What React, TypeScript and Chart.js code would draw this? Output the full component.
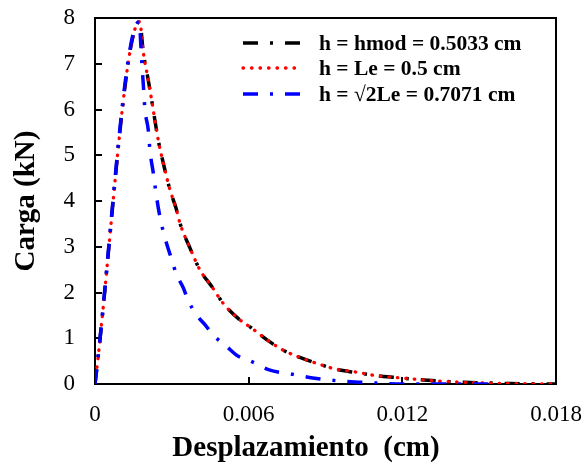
import { useEffect, useRef } from "react";
import { Chart, registerables } from "chart.js";

Chart.register(...registerables);

// ---- data ----
const hmodX = [0, 0.00174, 0.00189, 0.00208, 0.00221, 0.00247, 0.00267, 0.00293, 0.00316, 0.00332, 0.00371, 0.0041, 0.00456, 0.00501, 0.00566, 0.00605, 0.00683, 0.00735, 0.008, 0.00866, 0.00944, 0.0102, 0.011, 0.01178, 0.01282, 0.01386, 0.0149, 0.0162, 0.018];
const hmodY = [0, 7.92, 7.23, 6.64, 6.21, 5.33, 4.82, 4.24, 3.85, 3.51, 2.97, 2.49, 2.13, 1.76, 1.4, 1.25, 0.92, 0.74, 0.58, 0.45, 0.32, 0.25, 0.18, 0.14, 0.09, 0.05, 0.03, 0.01, 0];

const leX = [0, 0.00174, 0.00189, 0.00208, 0.00221, 0.00247, 0.00267, 0.00293, 0.00316, 0.00332, 0.00371, 0.0041, 0.00456, 0.00501, 0.00566, 0.00605, 0.00683, 0.00735, 0.008, 0.00866, 0.00944, 0.0102, 0.011, 0.01178, 0.01282, 0.01386, 0.0149, 0.0162, 0.018];
const leY = [0, 7.92, 7.23, 6.64, 6.21, 5.33, 4.82, 4.24, 3.85, 3.51, 2.97, 2.49, 2.13, 1.76, 1.4, 1.25, 0.92, 0.74, 0.58, 0.45, 0.32, 0.26, 0.18, 0.14, 0.09, 0.05, 0.03, 0.01, 0];

const sqX = [0, 0.00172, 0.00182, 0.00189, 0.00195, 0.00208, 0.00215, 0.00228, 0.0024, 0.00254, 0.00273, 0.003, 0.00319, 0.00345, 0.00364, 0.00397, 0.0043, 0.00469, 0.00514, 0.00553, 0.00612, 0.0068, 0.00774, 0.0085, 0.00946, 0.0103, 0.0112, 0.012, 0.0157];
const sqY = [0, 7.92, 7.1, 6.51, 6.0, 5.55, 5.08, 4.6, 4.1, 3.64, 3.2, 2.71, 2.38, 2.1, 1.82, 1.51, 1.29, 1.03, 0.82, 0.63, 0.49, 0.31, 0.21, 0.13, 0.07, 0.04, 0.015, 0, 0];

const seriesLabels = ["h = hmod = 0.5033 cm", "h = Le = 0.5 cm", "h = \u221A2Le = 0.7071 cm"];
const seriesColors = ["#000000", "#FF0000", "#0000FF"];

const xTicks = [0, 0.006, 0.012, 0.018];
const xTickLabels = ["0", "0.006", "0.012", "0.018"];
const yTicks = [0, 1, 2, 3, 4, 5, 6, 7, 8];
const yTickLabels = ["0", "1", "2", "3", "4", "5", "6", "7", "8"];

const xTitle = "Desplazamiento  (cm)";
const yTitle = "Carga (kN)";

const SERIF = "'Liberation Serif', 'Times New Roman', serif";

const dashBlack = [15, 12, 3, 12];
const dashRed = [0.5, 8];
const dashBlue = [15, 12, 3, 12];
const seriesDash = [dashBlack, dashRed, dashBlue];
const seriesWidth = [3.5, 3.3, 3.5];
const seriesCap: CanvasLineCap[] = ["butt", "round", "butt"];

function pts(xs: number[], ys: number[]) {
  return xs.map((x, i) => ({ x, y: ys[i] }));
}

const framePlugin = {
  id: "frame",
  beforeDatasetsDraw(chart: any) {
    const { ctx, chartArea: a, scales } = chart;
    ctx.save();
    ctx.strokeStyle = "#000";
    ctx.lineWidth = 2;
    ctx.setLineDash([]);
    ctx.strokeRect(a.left, a.top, a.right - a.left, a.bottom - a.top);
    ctx.beginPath();
    yTicks.forEach((v) => {
      const y = Math.round(scales.y.getPixelForValue(v));
      ctx.moveTo(a.left, y);
      ctx.lineTo(a.left + 7, y);
    });
    xTicks.forEach((v) => {
      const x = Math.round(scales.x.getPixelForValue(v));
      ctx.moveTo(x, a.bottom);
      ctx.lineTo(x, a.bottom - 7);
    });
    ctx.stroke();
    ctx.restore();
  },
};

const textPlugin = {
  id: "insideLegendAndTitle",
  afterDraw(chart: any) {
    const { ctx, chartArea: a } = chart;
    ctx.save();
    // x-axis title (slightly left of the plot centre, as in the reference)
    ctx.fillStyle = "#000";
    ctx.font = `bold 29px ${SERIF}`;
    ctx.textAlign = "center";
    ctx.textBaseline = "middle";
    ctx.fillText(xTitle, a.left + 211, a.bottom + 65);

    // legend inside the plot
    const x0 = a.left + 148;
    const x1 = a.left + 207;
    const tx = a.left + 224;
    const rows = [a.top + 25, a.top + 50, a.top + 76];
    for (let i = 0; i < seriesLabels.length; i++) {
      const y = rows[i];
      ctx.beginPath();
      ctx.strokeStyle = seriesColors[i];
      ctx.lineWidth = seriesWidth[i];
      ctx.lineCap = seriesCap[i];
      ctx.setLineDash(seriesDash[i]);
      ctx.moveTo(x0, y);
      ctx.lineTo(x1, y);
      ctx.stroke();
      ctx.setLineDash([]);
      ctx.fillStyle = "#000";
      ctx.font = `bold 21.5px ${SERIF}`;
      ctx.textAlign = "left";
      ctx.textBaseline = "middle";
      ctx.fillText(seriesLabels[i], tx, y + 1);
    }
    ctx.restore();
  },
};

export default function App() {
  const ref = useRef<HTMLCanvasElement | null>(null);

  useEffect(() => {
    document.body.style.margin = "0";
    const canvas = ref.current;
    if (!canvas) return;
    const mk = (i: number, data: any[]) => ({
      label: seriesLabels[i],
      data,
      borderColor: seriesColors[i],
      backgroundColor: seriesColors[i],
      borderWidth: seriesWidth[i],
      borderDash: seriesDash[i],
      borderCapStyle: seriesCap[i],
      pointRadius: 0,
      fill: false,
      cubicInterpolationMode: "monotone" as const,
    });
    const chart = new Chart(canvas, {
      type: "line",
      data: {
        datasets: [mk(2, pts(sqX, sqY)), mk(1, pts(leX, leY)), mk(0, pts(hmodX, hmodY))],
      },
      options: {
        animation: false,
        responsive: false,
        devicePixelRatio: 1,
        layout: { padding: { left: 0, right: 28, top: 18, bottom: 0 } },
        plugins: {
          legend: { display: false },
          tooltip: { enabled: false },
        },
        scales: {
          x: {
            type: "linear",
            min: 0,
            max: 0.018,
            afterBuildTicks: (s: any) => {
              s.ticks = xTicks.map((v) => ({ value: v }));
            },
            afterFit: (s: any) => {
              s.height = 84;
            },
            ticks: {
              autoSkip: false,
              maxRotation: 0,
              padding: 2,
              color: "#000",
              font: { family: SERIF, size: 23 },
              callback: (_v: any, i: number) => xTickLabels[i],
            },
            grid: { display: false, drawTicks: true, tickLength: 15 },
            border: { display: false },
            title: { display: false },
          },
          y: {
            type: "linear",
            min: 0,
            max: 8,
            afterBuildTicks: (s: any) => {
              s.ticks = yTicks.map((v) => ({ value: v }));
            },
            afterFit: (s: any) => {
              s.width = 95;
            },
            ticks: {
              autoSkip: false,
              padding: 4,
              color: "#000",
              font: { family: SERIF, size: 23 },
              callback: (_v: any, i: number) => yTickLabels[i],
            },
            grid: { display: false, drawTicks: true, tickLength: 16 },
            border: { display: false },
            title: {
              display: true,
              text: yTitle,
              color: "#000",
              font: { family: SERIF, size: 29, weight: "bold" },
              padding: { top: 9, bottom: 0 },
            },
          },
        },
      },
      plugins: [framePlugin, textPlugin],
    });
    return () => chart.destroy();
  }, []);

  return (
    <div style={{ width: 584, height: 468 }}>
      <canvas ref={ref} width={584} height={468} style={{ display: "block" }} />
    </div>
  );
}
